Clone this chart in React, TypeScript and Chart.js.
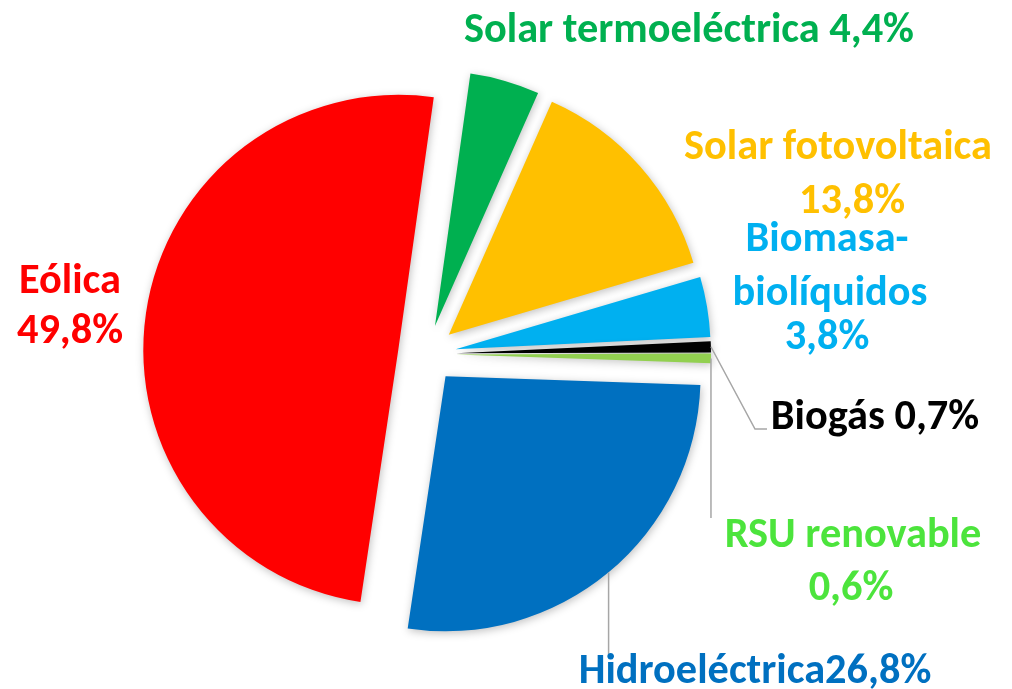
import React, { useEffect, useRef } from "react";
import { Chart, registerables } from "chart.js";

Chart.register(...registerables);

// ---- data ----
const categories = [
  "Solar termoeléctrica",
  "Solar fotovoltaica",
  "Biomasa-biolíquidos",
  "Biogás",
  "RSU renovable",
  "Hidroeléctrica",
  "Eólica",
];
const shares = [4.4, 13.8, 3.8, 0.7, 0.6, 26.8, 49.8];
const percentLabels = ["4,4%", "13,8%", "3,8%", "0,7%", "0,6%", "26,8%", "49,8%"];
const labelLines = [
  ["Solar termoeléctrica 4,4%"],
  ["Solar fotovoltaica", "13,8%"],
  ["Biomasa-", "biolíquidos", "3,8%"],
  ["Biogás 0,7%"],
  ["RSU renovable", "0,6%"],
  ["Hidroeléctrica26,8%"],
  ["Eólica", "49,8%"],
];

// ---- styles / layout ----
const sliceColors = ["#00B050", "#FFC000", "#00B0F0", "#000000", "#92D050", "#0070C0", "#FF0000"];
const labelColors = ["#00B050", "#FFC000", "#00B0F0", "#000000", "#4CE43C", "#0070C0", "#FF0000"];
const EXPLODE = 29;
const FONT_FAMILY = "Carlito, Calibri, Lato, 'Open Sans', sans-serif";
const REF_TEXT = "Solar termoeléctrica 4,4%";
const REF_WIDTH = 450;

const labelLayout = [
  { x: [689], y: [42] },
  { x: [838, 852], y: [159, 213] },
  { x: [827, 830, 827], y: [251, 305, 349] },
  { x: [875], y: [429] },
  { x: [853, 851], y: [547, 600] },
  { x: [755], y: [683] },
  { x: [70, 70], y: [293, 343] },
];
// leader lines: points after the slice anchor; "v" = vertical drop to y
const leaderLayout: Record<number, { type: string; pts: number[][] }> = {
  3: { type: "poly", pts: [[755, 429], [767, 429]] },
  4: { type: "v", pts: [[0, 518]] },
  5: { type: "v", pts: [[0, 655]] },
};

const explodePlugin = {
  id: "explodeSlices",
  beforeDatasetsDraw(chart: any) {
    const { chartArea, ctx } = chart;
    const cx = (chartArea.left + chartArea.right) / 2;
    const cy = (chartArea.top + chartArea.bottom) / 2;
    const meta = chart.getDatasetMeta(0);
    meta.data.forEach((arc: any) => {
      const mid = (arc.startAngle + arc.endAngle) / 2;
      arc.x = cx + Math.cos(mid) * EXPLODE;
      arc.y = cy + Math.sin(mid) * EXPLODE;
    });
    ctx.save();
    ctx.shadowColor = "rgba(0,0,0,0.25)";
    ctx.shadowBlur = 8;
    ctx.shadowOffsetX = 1;
    ctx.shadowOffsetY = 2;
  },
  afterDatasetsDraw(chart: any) {
    chart.ctx.restore();
  },
};

const labelPlugin = {
  id: "outerLabels",
  afterDraw(chart: any) {
    const ctx = chart.ctx as CanvasRenderingContext2D;
    const meta = chart.getDatasetMeta(0);
    ctx.save();
    // leader lines
    ctx.strokeStyle = "#A6A6A6";
    ctx.lineWidth = 1.5;
    Object.keys(leaderLayout).forEach((k) => {
      const i = Number(k);
      const arc: any = meta.data[i];
      const mid = (arc.startAngle + arc.endAngle) / 2;
      const ax = arc.x + Math.cos(mid) * arc.outerRadius;
      const ay = arc.y + Math.sin(mid) * arc.outerRadius;
      const L = leaderLayout[i];
      ctx.beginPath();
      ctx.moveTo(ax, ay);
      if (L.type === "v") {
        ctx.lineTo(ax, L.pts[0][1]);
      } else {
        L.pts.forEach((p) => ctx.lineTo(p[0], p[1]));
      }
      ctx.stroke();
    });
    // font size fitted to reference width
    ctx.font = `bold 100px ${FONT_FAMILY}`;
    const w100 = ctx.measureText(REF_TEXT).width;
    const size = (100 * REF_WIDTH) / w100;
    ctx.font = `bold ${size.toFixed(2)}px ${FONT_FAMILY}`;
    ctx.textAlign = "center";
    ctx.textBaseline = "alphabetic";
    labelLines.forEach((lines, i) => {
      ctx.fillStyle = labelColors[i];
      lines.forEach((t, j) => {
        ctx.fillText(t, labelLayout[i].x[j], labelLayout[i].y[j]);
      });
    });
    ctx.restore();
  },
};

export default function App() {
  const ref = useRef<HTMLCanvasElement | null>(null);
  useEffect(() => {
    if (!ref.current) return;
    const chart = new Chart(ref.current, {
      type: "pie",
      data: {
        labels: categories,
        datasets: [
          {
            data: shares,
            backgroundColor: sliceColors,
            borderColor: "#FFFFFF",
            borderWidth: 0,
          },
        ],
      },
      options: {
        responsive: false,
        animation: false,
        events: [],
        rotation: 8,
        radius: 255,
        layout: { padding: { left: 0, right: 158, top: 19, bottom: 0 } },
        plugins: {
          legend: { display: false },
          tooltip: { enabled: false },
        },
      },
      plugins: [explodePlugin, labelPlugin],
    });
    return () => chart.destroy();
  }, []);
  return (
    <div style={{ position: "absolute", left: 0, top: 0, width: 1012, height: 689, background: "#fff" }}>
      <canvas ref={ref} width={1012} height={689} />
    </div>
  );
}
